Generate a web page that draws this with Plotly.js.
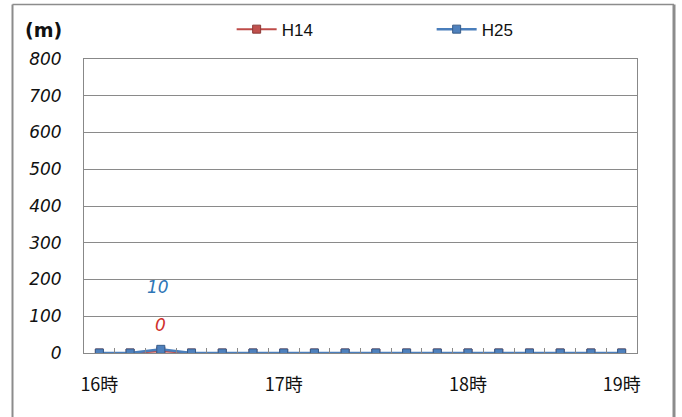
<!DOCTYPE html>
<html>
<head>
<meta charset="utf-8">
<script src="https://cdn.plot.ly/plotly-3.0.1.min.js"></script>
<style>
  html, body { margin: 0; padding: 0; background: #ffffff; }
  #chart { width: 682px; height: 417px; }
</style>
</head>
<body>
<div id="chart"></div>
<script>
// ---- data ----
var times = ['16:00','16:10','16:20','16:30','16:40','16:50','17:00','17:10','17:20','17:30',
             '17:40','17:50','18:00','18:10','18:20','18:30','18:40','18:50'];
var tickLabels = ['16時','','','','','','17時','','','','','','18時','','','','','19時'];
var h14 = [0,0,5,0,0,0,0,0,0,0,0,0,0,0,0,0,0,0];
var h25 = [0,0,10,0,0,0,0,0,0,0,0,0,0,0,0,0,0,0];
var h14LabelIndex = 2, h14LabelText = '0';
var h25LabelIndex = 2, h25LabelText = '10';
var yTicks = [0,100,200,300,400,500,600,700,800];

var traces = [
  {
    x: times, y: h14, name: 'H14', type: 'scatter', mode: 'lines+markers',
    line: { color: '#be4b48', width: 2 },
    marker: { symbol: 'square', size: 8, color: '#c0504d', line: { color: '#8c3836', width: 1 } }
  },
  {
    x: times, y: h25, name: 'H25', type: 'scatter', mode: 'lines+markers',
    line: { color: '#4a7ebb', width: 2.5 },
    marker: { symbol: 'square', size: 8, color: '#4f81bd', line: { color: '#385d8a', width: 1 } }
  }
];

var layout = {
  width: 682, height: 417,
  margin: { l: 84, r: 45, t: 59, b: 64 },
  paper_bgcolor: '#ffffff', plot_bgcolor: '#ffffff',
  showlegend: true,
  legend: {
    orientation: 'h', x: 0.267, xanchor: 'left', y: 1.1, yanchor: 'middle',
    entrywidth: 145, entrywidthmode: 'pixels', itemwidth: 40,
    font: { family: 'Liberation Sans Narrow, Liberation Sans, Arial, sans-serif', size: 17, color: '#111' },
    bgcolor: 'rgba(0,0,0,0)'
  },
  xaxis: {
    type: 'category', range: [-0.5, 17.5],
    tickvals: times, ticktext: tickLabels, tickangle: 0,
    tickson: 'boundaries', ticks: 'inside', ticklen: 5, tickcolor: '#888888',
    showline: true, linecolor: '#888888', linewidth: 1, mirror: true,
    showgrid: false, zeroline: false,
    ticklabelstandoff: 15,
    tickfont: { family: 'Liberation Sans Narrow, Noto Sans CJK JP, sans-serif', size: 18, color: '#111' },
    automargin: false,
    fixedrange: true
  },
  yaxis: {
    range: [0, 800], tickvals: yTicks,
    showgrid: true, gridcolor: '#8a8a8a', gridwidth: 1,
    showline: true, linecolor: '#888888', linewidth: 1, mirror: true,
    zeroline: false, ticks: '',
    ticklabelstandoff: 18,
    tickfont: { family: 'DejaVu Sans, sans-serif', size: 17, color: '#111', style: 'italic' },
    automargin: false,
    fixedrange: true
  },
  annotations: [
    {
      text: '<b>(m)</b>', xref: 'paper', yref: 'paper',
      x: (43 - 84) / 553, y: (353 - 30) / 294, xanchor: 'center', yanchor: 'middle',
      showarrow: false, font: { family: 'DejaVu Sans, sans-serif', size: 19, color: '#111' }
    },
    {
      text: h25LabelText, x: times[h25LabelIndex], y: h25[h25LabelIndex],
      xref: 'x', yref: 'y', showarrow: false, xshift: -3, yshift: 62,
      font: { family: 'DejaVu Sans, sans-serif', size: 17, color: '#2e75b6', style: 'italic' }
    },
    {
      text: h14LabelText, x: times[h14LabelIndex], y: h14[h14LabelIndex],
      xref: 'x', yref: 'y', showarrow: false, xshift: 0, yshift: 26,
      font: { family: 'DejaVu Sans, sans-serif', size: 17, color: '#d0302c', style: 'italic' }
    }
  ],
  shapes: [
    { type: 'line', xref: 'paper', yref: 'paper',
      x0: (12.5 - 84) / 553, x1: (12.5 - 84) / 553, y0: (353 - 4.5) / 294, y1: (353 - 420) / 294,
      line: { color: '#8c8c8c', width: 2 } },
    { type: 'line', xref: 'paper', yref: 'paper',
      x0: (12.5 - 84) / 553, x1: (674 - 84) / 553, y0: (353 - 4.5) / 294, y1: (353 - 4.5) / 294,
      line: { color: '#8c8c8c', width: 1.5 } },
    { type: 'line', xref: 'paper', yref: 'paper',
      x0: (674 - 84) / 553, x1: (674 - 84) / 553, y0: (353 - 4.5) / 294, y1: (353 - 420) / 294,
      line: { color: '#8c8c8c', width: 3 } }
  ]
};

Plotly.newPlot('chart', traces, layout, { displayModeBar: false, staticPlot: true });
</script>
</body>
</html>
